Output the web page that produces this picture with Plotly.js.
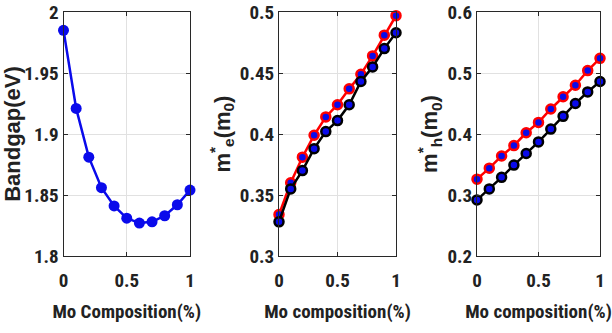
<!DOCTYPE html>
<html>
<head>
<meta charset="utf-8">
<script src="https://cdn.plot.ly/plotly-3.0.1.min.js"></script>
<style>html,body{margin:0;padding:0;background:#fff;}#plot{width:612px;height:333px;}</style>
</head>
<body>
<div id="plot"></div>
<script>
// ---- data ----
const composition = [0, 0.1, 0.2, 0.3, 0.4, 0.5, 0.6, 0.7, 0.8, 0.9, 1.0];
const bandgap = [1.985, 1.921, 1.881, 1.856, 1.841, 1.831, 1.827, 1.828, 1.833, 1.842, 1.854];
const meRed = [0.334, 0.360, 0.381, 0.399, 0.414, 0.424, 0.437, 0.449, 0.464, 0.481, 0.497];
const meBlack = [0.328, 0.355, 0.370, 0.388, 0.402, 0.411, 0.424, 0.443, 0.455, 0.470, 0.483];
const mhRed = [0.326, 0.344, 0.364, 0.381, 0.402, 0.419, 0.441, 0.461, 0.480, 0.504, 0.524];
const mhBlack = [0.292, 0.310, 0.329, 0.349, 0.368, 0.387, 0.408, 0.429, 0.450, 0.469, 0.486];
const xTickVals = [0, 0.5, 1];
const xTickText = ['0', '0.5', '1'];
const xTitles = ['Mo Composition(%)', 'Mo composition(%)', 'Mo composition(%)'];
const yTitles = ['Bandgap(eV)', 'm<sup>*</sup><sub>e</sub>(m<sub>0</sub>)', 'm<sup>*</sup><sub>h</sub>(m<sub>0</sub>)'];

const narrow = 'Roboto Condensed';
const wide = 'Liberation Sans';
const blue = 'rgb(10,10,235)';

function series(x, y, xa, ya, lineColor, size, lw) {
  return {
    x: x, y: y, xaxis: xa, yaxis: ya, type: 'scatter', mode: 'lines+markers',
    line: {color: lineColor, width: 2.5},
    marker: {color: blue, size: size, line: {color: lineColor, width: lw}},
    showlegend: false, hoverinfo: 'skip', cliponaxis: false
  };
}

const data = [
  series(composition, bandgap, 'x', 'y', blue, 11, 0),
  series(composition, meRed, 'x2', 'y2', 'rgb(255,0,0)', 9, 2.5),
  series(composition, meBlack, 'x2', 'y2', 'rgb(0,0,0)', 9, 2.5),
  series(composition, mhRed, 'x3', 'y3', 'rgb(255,0,0)', 9, 2.5),
  series(composition, mhBlack, 'x3', 'y3', 'rgb(0,0,0)', 9, 2.5)
];

const yDom = [1 - 256/333, 1 - 12/333];
const xDoms = [[63.5/612, 190/612], [279/612, 396/612], [477/612, 600/612]];
const yRanges = [[1.8, 2.0], [0.3, 0.5], [0.2, 0.6]];
const yDticks = [0.05, 0.05, 0.1];
const yStandoff = [1, 3, 3];

function xaxis(i) {
  return {
    domain: xDoms[i], anchor: i === 0 ? 'y' : 'y' + (i + 1),
    range: [0, 1], tickvals: xTickVals, ticktext: xTickText,
    showgrid: true, gridcolor: 'rgb(225,225,225)', gridwidth: 1,
    showline: true, linecolor: 'rgb(40,40,40)', linewidth: 1, mirror: 'ticks',
    ticks: 'inside', ticklen: 4, tickcolor: 'rgb(40,40,40)', zeroline: false,
    ticklabelstandoff: 7,
    tickfont: {family: narrow, size: 19, color: '#222', weight: 'bold'},
    title: {text: xTitles[i], standoff: 13, font: {family: narrow, size: 19, color: '#222', weight: 'bold'}},
    automargin: false, fixedrange: true
  };
}
function yaxis(i) {
  return {
    domain: yDom, anchor: i === 0 ? 'x' : 'x' + (i + 1),
    range: yRanges[i], dtick: yDticks[i], tick0: 0,
    showgrid: true, gridcolor: 'rgb(225,225,225)', gridwidth: 1,
    showline: true, linecolor: 'rgb(40,40,40)', linewidth: 1, mirror: 'ticks',
    ticks: 'inside', ticklen: 4, tickcolor: 'rgb(40,40,40)', zeroline: false,
    tickfont: {family: narrow, size: 19, color: '#222', weight: 'bold'},
    title: {text: yTitles[i], standoff: yStandoff[i], font: {family: wide, size: 22, color: '#222', weight: 'bold'}},
    automargin: false, fixedrange: true
  };
}

const layout = {
  width: 612, height: 333,
  margin: {l: 0, r: 0, t: 0, b: 0, pad: 0},
  paper_bgcolor: '#fff', plot_bgcolor: '#fff',
  xaxis: xaxis(0), yaxis: yaxis(0),
  xaxis2: xaxis(1), yaxis2: yaxis(1),
  xaxis3: xaxis(2), yaxis3: yaxis(2)
};

Plotly.newPlot('plot', data, layout, {displayModeBar: false, staticPlot: true});
</script>
</body>
</html>
